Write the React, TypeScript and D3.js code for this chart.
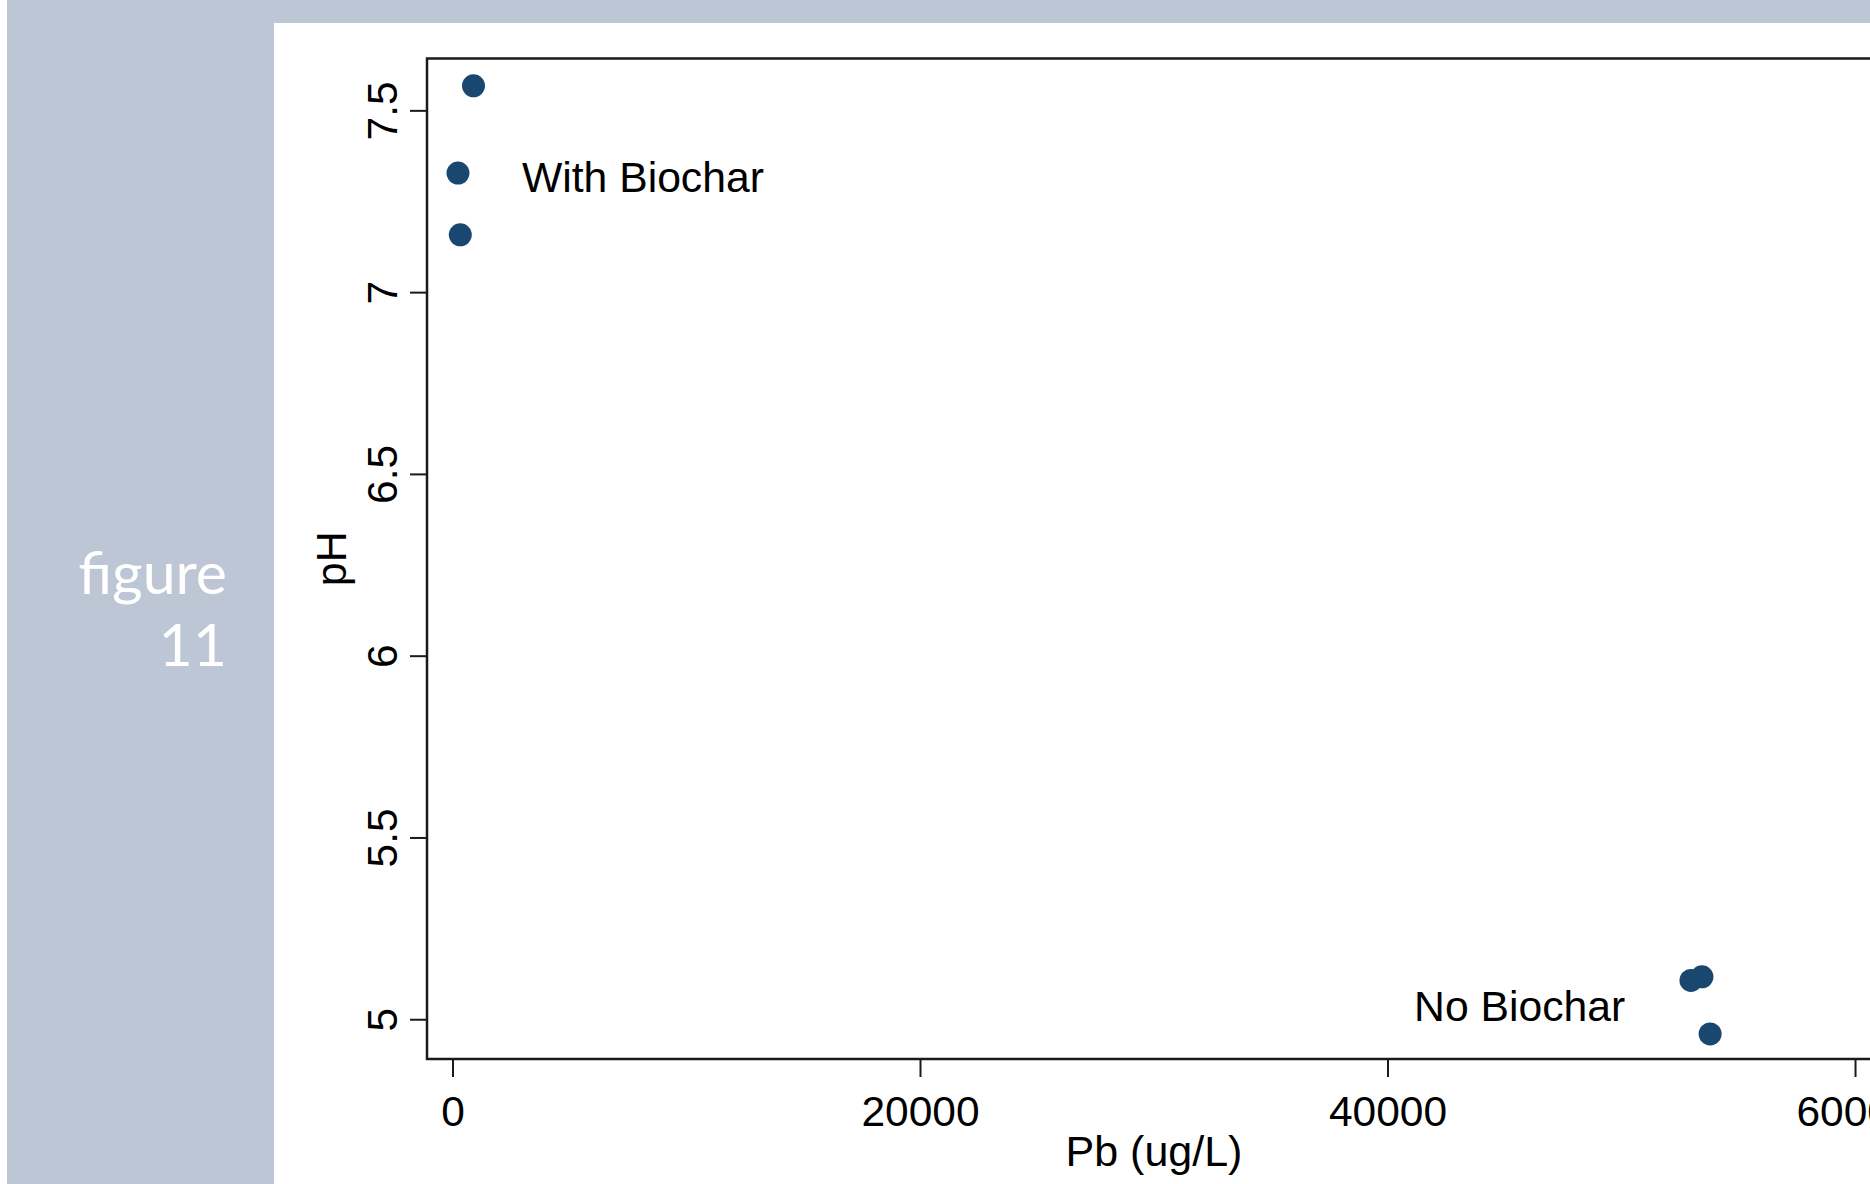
import * as d3 from "d3";

const WIDTH = 1870;
const HEIGHT = 1184;

// Pb (ug/L) vs pH
const pbValues = [877, 214, 312, 52960, 53430, 53780];
const phValues = [7.569, 7.329, 7.159, 5.108, 5.118, 4.961];

const xTicks = [0, 20000, 40000, 60000];
const yTicks = [5, 5.5, 6, 6.5, 7, 7.5];
const yTickLabels = ["5", "5.5", "6", "6.5", "7", "7.5"];

const labelTexts = ["With Biochar", "No Biochar"];
const labelX = [2950, 50150];
const labelY = [7.32, 5.04];
const labelAnchor = ["start", "end"];

const MARKER = "#1a476f";
const PANEL_BG = "#bdc6d5";
const FONT = "'Liberation Sans', Arial, sans-serif";

export default function App() {
  // plot region (Stata pads the data range a little)
  const x = d3.scaleLinear().domain([-1112, 61090]).range([427, 1881]);
  const y = d3.scaleLinear().domain([4.892, 7.644]).range([1059, 58.5]);

  const [x0, x1] = x.range();
  const [yb, yt] = y.range();
  const points = pbValues.map((v, i) => ({ pb: v, ph: phValues[i] }));

  return (
    <div style={{ position: "fixed", left: 0, top: 0, width: WIDTH, height: HEIGHT, overflow: "hidden" }}>
      <svg width={WIDTH} height={HEIGHT} style={{ display: "block" }}>
        <rect x={0} y={0} width={WIDTH} height={HEIGHT} fill={PANEL_BG} />
        <rect x={0} y={0} width={7} height={HEIGHT} fill="#ffffff" />
        <rect x={274} y={23} width={WIDTH - 274} height={HEIGHT - 23} fill="#ffffff" />

        {/* side caption */}
        <text x={227} y={594} textAnchor="end" fill="#ffffff" fontFamily="Lato, sans-serif" fontSize={59}>
          figure
        </text>
        <text x={227} y={666} textAnchor="end" fill="#ffffff" fontFamily="Lato, sans-serif" fontSize={59}>
          11
        </text>

        {/* frame */}
        <rect x={x0} y={yt} width={x1 - x0} height={yb - yt} fill="none" stroke="#1a1a1a" strokeWidth={2.5} />

        {/* x axis */}
        {xTicks.map((t) => (
          <g key={t}>
            <line x1={x(t)} x2={x(t)} y1={yb} y2={yb + 18} stroke="#1a1a1a" strokeWidth={2} />
            <text x={x(t)} y={1126} textAnchor="middle" fontFamily={FONT} fontSize={42.5} fill="#000">
              {t}
            </text>
          </g>
        ))}
        <text x={(x0 + x1) / 2} y={1166} textAnchor="middle" fontFamily={FONT} fontSize={43} fill="#000">
          Pb (ug/L)
        </text>

        {/* y axis */}
        {yTicks.map((t, i) => (
          <g key={t}>
            <line x1={x0 - 17} x2={x0} y1={y(t)} y2={y(t)} stroke="#1a1a1a" strokeWidth={2} />
            <text
              transform={`translate(397, ${y(t)}) rotate(-90)`}
              textAnchor="middle"
              fontFamily={FONT}
              fontSize={42.5}
              fill="#000"
            >
              {yTickLabels[i]}
            </text>
          </g>
        ))}
        <text
          transform={`translate(346, ${(yt + yb) / 2}) rotate(-90)`}
          textAnchor="middle"
          fontFamily={FONT}
          fontSize={43}
          fill="#000"
        >
          pH
        </text>

        {/* markers */}
        {points.map((d, i) => (
          <circle key={i} cx={x(d.pb)} cy={y(d.ph)} r={11.5} fill={MARKER} />
        ))}

        {/* group labels */}
        {labelTexts.map((s, i) => (
          <text
            key={s}
            x={x(labelX[i])}
            y={y(labelY[i])}
            dy="0.36em"
            textAnchor={labelAnchor[i]}
            fontFamily={FONT}
            fontSize={42.7}
            fill="#000"
          >
            {s}
          </text>
        ))}
      </svg>
    </div>
  );
}
